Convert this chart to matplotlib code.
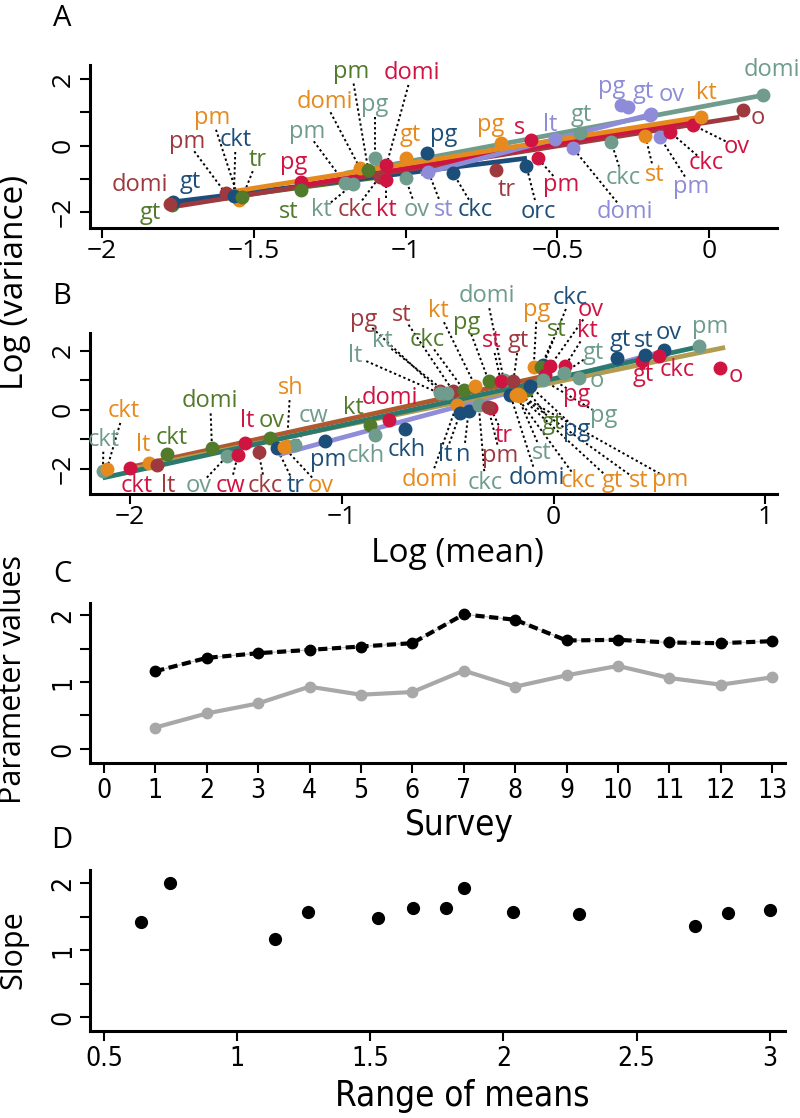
import matplotlib
matplotlib.use('Agg')
import matplotlib.pyplot as plt
import numpy as np

plt.rcParams['font.family'] = ['Open Sans', 'DejaVu Sans']

COLORS = {'G': '#527A2B', 'M': '#9E3A3F', 'N': '#1C4E7A', 'O': '#E68A1E',
          'C': '#D01442', 'T': '#6F9C8C', 'L': '#8E8CD8'}

# ---- Panel A: log mean / log variance per site, grouped by survey colour
a_group = ['G', 'N', 'M', 'M', 'O', 'N', 'G', 'C', 'G', 'T', 'T', 'M', 'O', 'G',
           'T', 'C', 'C', 'O', 'T', 'N', 'L', 'N', 'O', 'M', 'C', 'C', 'N', 'L',
           'T', 'L', 'T', 'O', 'L', 'C', 'C', 'L', 'L', 'L', 'L', 'O', 'M', 'T']
a_name = ['gt', 'gt', 'domi', 'pm', 'pm', 'ckt', 'tr', 'pg', 'st', 'pm', 'kt', 'ckc',
          'domi', 'pm', 'pg', 'domi', 'kt', 'gt', 'ov', 'pg', 'st', 'ckc', 'pg', 'tr',
          's', 'pm', 'orc', 'lt', 'gt', 'domi', 'ckc', 'st', 'pm', 'ckc', 'ov', 'pg',
          '', 'gt', 'ov', 'kt', 'o', 'domi']
a_x = [-1.769, -1.765, -1.775, -1.593, -1.549, -1.566, -1.538, -1.346, -1.346, -1.20,
       -1.173, -1.085, -1.15, -1.123, -1.101, -1.063, -1.063, -1.0, -1.0, -0.931,
       -0.925, -0.843, -0.685, -0.701, -0.586, -0.564, -0.602, -0.509, -0.426, -0.448,
       -0.322, -0.21, -0.163, -0.13, -0.053, -0.289, -0.267, -0.196, -0.19, -0.025,
       0.112, 0.179]
a_y = [-1.78, -1.70, -1.76, -1.43, -1.63, -1.50, -1.55, -1.08, -1.33, -1.13,
       -1.16, -0.93, -0.68, -0.73, -0.38, -0.58, -1.03, -0.38, -0.98, -0.23,
       -0.78, -0.83, 0.07, -0.73, 0.17, -0.38, -0.61, 0.19, 0.37, -0.08,
       0.10, 0.30, 0.27, 0.42, 0.62, 1.22, 1.17, 0.92, 0.95, 0.87,
       1.07, 1.52]
a_label_x = [-1.84, -1.709, -1.874, -1.72, -1.637, -1.56, -1.489, -1.368, -1.385, -1.326,
             -1.277, -1.167, -1.266, -1.178, -1.101, -0.98, -1.063, -0.986, -0.964, -0.876,
             -0.876, -0.771, -0.718, -0.668, -0.624, -0.487, -0.564, -0.525, -0.421, -0.278,
             -0.284, -0.179, -0.058, -0.009, 0.09, -0.322, 0.0, -0.218, -0.124, -0.009,
             0.162, 0.206]
a_label_y = [-2.03, -1.08, -1.18, 0.12, 0.82, 0.17, -0.43, -0.53, -1.98, 0.42,
             -1.93, -1.93, 1.32, 2.22, 1.22, 2.17, -1.93, 0.32, -1.93, 0.32,
             -1.93, -1.93, 0.62, -1.33, 0.52, -1.18, -1.98, 0.62, 0.92, -1.98,
             -0.98, -0.88, -1.23, -0.53, -0.03, 1.77, 0.0, 1.62, 1.52, 1.57,
             0.82, 2.27]
a_leader = [0, 0, 0, 1, 1, 1, 1, 0, 0, 1,
            1, 1, 1, 1, 1, 1, 1, 0, 1, 0,
            1, 1, 0, 0, 0, 1, 1, 0, 0, 1,
            1, 1, 1, 1, 1, 0, 0, 0, 0, 0,
            0, 0]

# fitted lines in panel A (one per colour group)
a_fit_group = ['G', 'N', 'M', 'C', 'T', 'L', 'O']
a_fit_slope = [1.2, 1.125, 1.44, 1.49, 1.70, 2.36, 1.45]
a_fit_intercept = [0.36, 0.30, 0.71, 0.81, 1.21, 1.39, 0.90]
a_fit_xmin = [-1.78, -1.765, -1.775, -1.35, -1.2, -0.95, -1.571]
a_fit_xmax = [-1.1, -0.6, 0.10, -0.05, 0.18, -0.2, -0.025]

# ---- Panel B
b_group = ['T', 'O', 'C', 'O', 'M', 'G', 'G', 'T', 'C', 'C', 'G', 'M', 'N', 'O', 'T',
           'O', 'N', 'G', 'T', 'C', 'N', 'M', 'M', 'T', 'T', 'G', 'O', 'G', 'T', 'C',
           'M', 'O', 'N', 'N', 'T', 'C', 'M', 'O', 'N', 'G', 'C', 'C', 'C', 'T', 'T',
           'N', 'C', 'N', 'N', 'C', 'T', 'C', 'T', 'G', 'N', 'T', 'N', 'O', 'O', 'O', 'O']
b_name = ['ckt', 'ckt', 'ckt', 'lt', 'lt', 'ckt', 'domi', 'ov', 'cw', 'lt', 'ov', 'ckc',
          'tr', 'sh', 'cw', 'ov', 'pm', 'kt', 'ckh', 'domi', 'ckh', 'pg', 'st', 'kt',
          'lt', 'ckc', 'kt', 'pg', 'domi', 'st', 'gt', 'domi', 'lt', 'n', 'ckc', 'tr',
          'pm', 'pg', 'ckc', 'st', 'ov', 'kt', 'pg', 'gt', 'o', 'gt', 'gt', 'st', 'ov',
          'ckc', 'pm', 'o', 'pg', 'gt', 'pg', 'st', 'domi', 'ckc', 'gt', 'st', 'pm']
b_x = [-2.129, -2.11, -2.0, -1.913, -1.874, -1.827, -1.614, -1.543, -1.491, -1.457,
       -1.339, -1.394, -1.307, -1.26, -1.22, -1.275, -1.079, -0.866, -0.843, -0.78,
       -0.70, -0.537, -0.474, -0.504, -0.537, -0.425, -0.37, -0.306, -0.236, -0.25,
       -0.19, -0.457, -0.441, -0.402, -0.354, -0.298, -0.31, -0.094, -0.05, -0.06,
       -0.016, 0.055, -0.043, 0.047, 0.118, 0.299, 0.417, 0.433, 0.52, 0.496,
       0.685, 0.787, -0.05, -0.126, -0.11, -0.173, -0.205, -0.18, -0.17, -0.165, -0.16]
b_y = [-2.09, -2.0, -1.98, -1.81, -1.86, -1.49, -1.30, -1.58, -1.53, -1.13,
       -0.96, -1.44, -1.30, -1.22, -1.19, -1.27, -1.07, -0.51, -0.85, -0.34,
       -0.66, 0.62, 0.62, 0.56, 0.55, 0.68, 0.80, 0.96, 1.02, 0.98,
       0.98, 0.17, -0.11, -0.06, 0.17, 0.06, 0.10, 1.45, 1.50, 1.45,
       1.49, 1.49, 1.19, 1.24, 1.07, 1.75, 1.64, 1.86, 2.03, 1.81,
       2.15, 1.41, 1.0, 0.68, 0.79, 0.51, 0.51, 0.50, 0.52, 0.50, 0.48]
b_label_x = [-2.126, -2.031, -1.969, -1.937, -1.819, -1.803, -1.622, -1.677, -1.528, -1.449,
             -1.331, -1.362, -1.22, -1.244, -1.134, -1.102, -1.063, -0.945, -0.89, -0.772,
             -0.693, -0.898, -0.717, -0.811, -0.937, -0.598, -0.543, -0.409, -0.315, -0.291,
             -0.165, -0.583, -0.512, -0.425, -0.323, -0.236, -0.252, -0.079, 0.079, 0.016,
             0.173, 0.157, 0.11, 0.189, 0.205, 0.315, 0.425, 0.425, 0.543, 0.583,
             0.74, 0.858, 0.236, -0.008, 0.110, -0.055, -0.079, 0.118, 0.276, 0.402, 0.551]
b_label_y = [-1.02, -0.06, -2.60, -1.19, -2.60, -0.96, 0.28, -2.60, -2.60, -0.40,
             -0.40, -2.60, -2.60, 0.73, -0.23, -2.60, -1.69, 0.06, -1.58, 0.40,
             -1.36, 3.05, 3.22, 2.32, 1.81, 2.37, 3.33, 2.94, 3.84, 2.32,
             2.32, -2.37, -1.53, -1.53, -2.49, -0.90, -1.58, 3.39, 3.79, 2.71,
             3.39, 2.66, 0.51, 1.92, 0.96, 2.37, 1.19, 2.32, 2.60, 1.36,
             2.82, 1.13, -0.23, -0.45, -0.68, -1.47, -2.32, -2.43, -2.43, -2.43, -2.37]
b_leader = [1, 1, 0, 0, 0, 0, 1, 1, 1, 0, 0, 1, 1, 1, 1, 1, 0, 0, 0, 0,
            0, 1, 1, 1, 1, 1, 1, 1, 1, 1, 1, 1, 1, 1, 1, 1, 1, 1, 1, 1,
            1, 1, 1, 1, 0, 0, 0, 0, 0, 0, 0, 0, 1, 1, 1, 1, 1, 1, 1, 1, 1]

b_fit_color = ['#8F8DDA', '#B0582E', '#B29C52', '#2A7A70']
b_fit_slope = [1.93, 1.58, 1.47, 1.58]
b_fit_intercept = [0.98, 1.21, 0.92, 1.05]
b_fit_xmin = [-1.3, -2.0, -2.0, -2.13]
b_fit_xmax = [0.54, -0.05, 0.81, 0.71]

# ---- Panel C: parameter values per survey
survey = list(range(1, 14))
param_black = [1.16, 1.36, 1.43, 1.48, 1.53, 1.58, 2.01, 1.93, 1.62, 1.63, 1.59, 1.58, 1.61]
param_grey = [0.32, 0.53, 0.68, 0.93, 0.81, 0.85, 1.17, 0.93, 1.10, 1.24, 1.06, 0.96, 1.07]

# ---- Panel D: slope vs range of means
range_means = [0.636, 0.748, 1.143, 1.267, 1.529, 1.661, 1.783, 1.851, 2.035, 2.285,
               2.719, 2.845, 3.0]
slope_d = [1.425, 2.0, 1.16, 1.565, 1.485, 1.625, 1.625, 1.925, 1.565, 1.535,
           1.355, 1.555, 1.605]

NARROW = dict(family='DejaVu Sans', stretch='condensed')


def style_axes(ax, size=19, pad=1, narrow=False):
    for side in ['top', 'right']:
        ax.spines[side].set_visible(False)
    for side in ['left', 'bottom']:
        ax.spines[side].set_linewidth(2.2)
    ax.tick_params(length=7, width=1.5, labelsize=size, pad=pad)
    ax.tick_params(axis='y', labelrotation=90, pad=3)
    for lab in ax.get_yticklabels():
        lab.set_va('center')
    if narrow:
        for lab in ax.get_xticklabels() + ax.get_yticklabels():
            lab.set_family(NARROW['family'])
            lab.set_stretch(NARROW['stretch'])


def draw_leader(ax, x0, y0, x1, y1):
    p0 = ax.transData.transform((x0, y0))
    p1 = ax.transData.transform((x1, y1))
    d = p1 - p0
    u = d / np.hypot(*d)
    s = p0 + u * 12
    e = p1 - u * 5
    s, e = ax.transData.inverted().transform([s, e])
    ax.plot([s[0], e[0]], [s[1], e[1]], color='black', lw=1.4,
            ls=(0, (1.2, 1.4)), zorder=1, clip_on=False)


def scatter_panel(ax, grp, names, xs, ys, lx, ly, leader):
    for g, n, x, y, tx, ty, ld in zip(grp, names, xs, ys, lx, ly, leader):
        ax.plot(x, y, 'o', color=COLORS[g], ms=9, zorder=3, clip_on=False)
        if n:
            ax.text(tx, ty, n, color=COLORS[g], fontsize=17, ha='center',
                    va='center', zorder=4, clip_on=False)
            if ld:
                draw_leader(ax, tx, ty, x, y)


fig = plt.figure(figsize=(8, 11.18), dpi=100)
H = 1118.0

# Panel A
ax_a = fig.add_axes([90 / 800, 1 - 228 / H, 687 / 800, 163 / H])
ax_a.set_xlim(-2.04, 0.224)
ax_a.set_ylim(-2.47, 2.42)
for g, k, b, x0, x1 in zip(a_fit_group, a_fit_slope, a_fit_intercept, a_fit_xmin, a_fit_xmax):
    xx = np.array([x0, x1])
    ax_a.plot(xx, k * xx + b, color=COLORS[g], lw=3.4, zorder=2, solid_capstyle='butt')
scatter_panel(ax_a, a_group, a_name, a_x, a_y, a_label_x, a_label_y, a_leader)
ax_a.set_xticks([-2, -1.5, -1, -0.5, 0])
ax_a.set_xticklabels(['\u22122', '\u22121.5', '\u22121', '\u22120.5', '0'])
ax_a.set_yticks([-2, -1, 0, 1, 2])
ax_a.set_yticklabels(['\u22122', '', '0', '', '2'])
style_axes(ax_a)

# Panel B
ax_b = fig.add_axes([90 / 800, 1 - 494 / H, 687 / 800, 161 / H])
ax_b.set_xlim(-2.19, 1.055)
ax_b.set_ylim(-2.86, 2.6)
for c, k, b, x0, x1 in zip(b_fit_color, b_fit_slope, b_fit_intercept, b_fit_xmin, b_fit_xmax):
    xx = np.array([x0, x1])
    ax_b.plot(xx, k * xx + b, color=c, lw=3.4, zorder=2, solid_capstyle='butt')
scatter_panel(ax_b, b_group, b_name, b_x, b_y, b_label_x, b_label_y, b_leader)
ax_b.set_xticks([-2, -1, 0, 1])
ax_b.set_xticklabels(['\u22122', '\u22121', '0', '1'])
ax_b.set_yticks([-2, -1, 0, 1, 2])
ax_b.set_yticklabels(['\u22122', '', '0', '', '2'])
style_axes(ax_b)

fig.text(457 / 800, 1 - 553 / H, 'Log (mean)', fontsize=24, ha='center', va='center')
fig.text(15 / 800, 1 - 282 / H, 'Log (variance)', rotation=90, fontsize=24,
         ha='center', va='center')

# Panel C
ax_c = fig.add_axes([90 / 800, 1 - 763 / H, 695 / 800, 160 / H])
ax_c.set_xlim(-0.27, 13.25)
ax_c.set_ylim(-0.21, 2.18)
ax_c.plot(survey, param_black, color='#BBBBBB', lw=0.8, zorder=1)
ax_c.plot(survey, param_black, color='black', lw=3, ls=(0, (2.2, 1.1)),
          marker='o', ms=7.5, zorder=3)
ax_c.plot(survey, param_grey, color='#A8A8A8', lw=3, marker='o', ms=7.5, zorder=2)
ax_c.set_xticks(range(0, 14))
ax_c.set_yticks([0, 0.5, 1, 1.5, 2])
ax_c.set_yticklabels(['0', '', '1', '', '2'])
style_axes(ax_c, size=19, pad=4, narrow=True)
fig.text(459 / 800, 1 - 825 / H, 'Survey', fontsize=25, ha='center', va='center', **NARROW)
fig.text(13 / 800, 1 - 680 / H, 'Parameter values', rotation=90, fontsize=22,
         ha='center', va='center')

# Panel D
ax_d = fig.add_axes([90 / 800, 1 - 1031 / H, 695 / 800, 161 / H])
ax_d.set_xlim(0.446, 3.058)
ax_d.set_ylim(-0.21, 2.2)
ax_d.plot(range_means, slope_d, 'o', color='black', ms=8.5)
ax_d.set_xticks([0.5, 1, 1.5, 2, 2.5, 3])
ax_d.set_xticklabels(['0.5', '1', '1.5', '2', '2.5', '3'])
ax_d.set_yticks([0, 0.5, 1, 1.5, 2])
ax_d.set_yticklabels(['0', '', '1', '', '2'])
style_axes(ax_d, size=19, pad=4, narrow=True)
fig.text(462 / 800, 1 - 1096 / H, 'Range of means', fontsize=25, ha='center',
         va='center', **NARROW)
fig.text(13 / 800, 1 - 950 / H, 'Slope', rotation=90, fontsize=22,
         ha='center', va='center')

for letter, py in zip(['A', 'B', 'C', 'D'], [18, 297, 575, 840]):
    fig.text(62 / 800, 1 - py / H, letter, fontsize=21, ha='center', va='center')

fig.savefig('out.png', dpi=100)
